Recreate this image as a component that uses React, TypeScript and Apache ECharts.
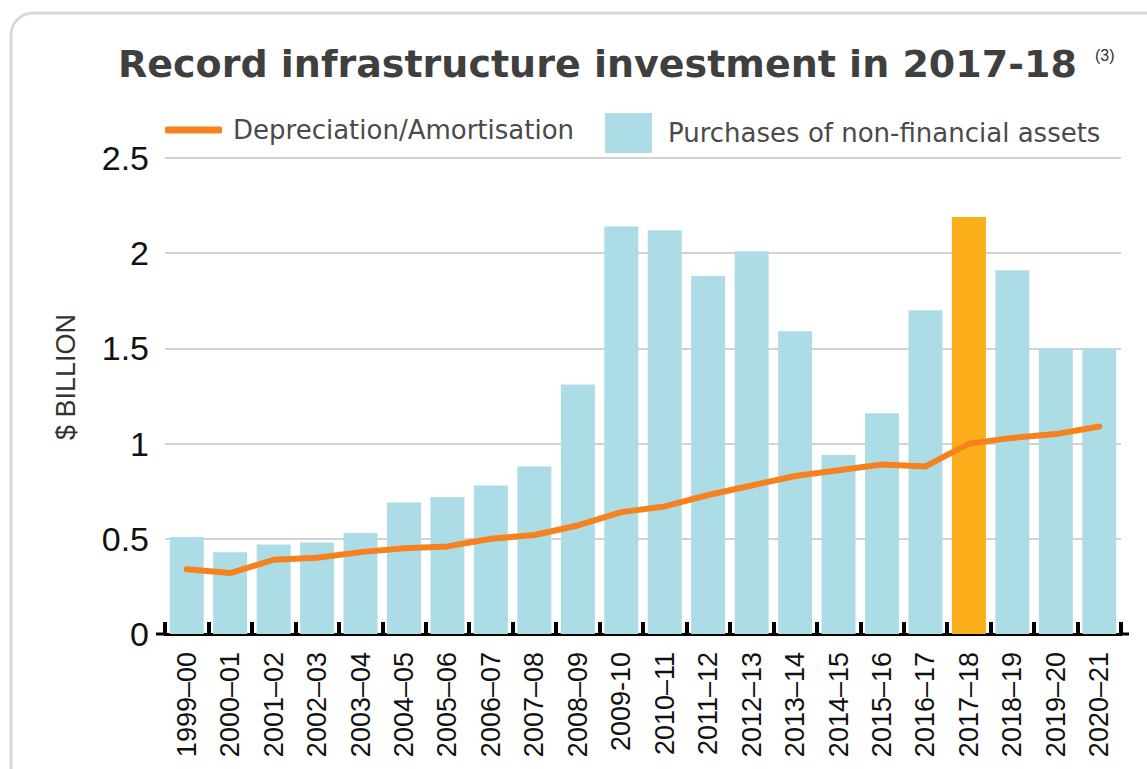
import React, { useEffect, useRef } from "react";
import * as echarts from "echarts";

const categories = [
  "1999–00", "2000–01", "2001–02", "2002–03", "2003–04", "2004–05",
  "2005–06", "2006–07", "2007–08", "2008–09", "2009-10", "2010–11",
  "2011–12", "2012–13", "2013–14", "2014–15", "2015–16", "2016–17",
  "2017–18", "2018–19", "2019–20", "2020–21",
];
const purchases = [
  0.51, 0.43, 0.47, 0.48, 0.53, 0.69, 0.72, 0.78, 0.88, 1.31, 2.14, 2.12,
  1.88, 2.01, 1.59, 0.94, 1.16, 1.70, 2.19, 1.91, 1.50, 1.50,
];
const depreciation = [
  0.34, 0.32, 0.39, 0.40, 0.43, 0.45, 0.46, 0.50, 0.52, 0.57, 0.64, 0.67,
  0.73, 0.78, 0.83, 0.86, 0.89, 0.88, 1.00, 1.03, 1.05, 1.09,
];
const highlightCategory = "2017–18";
const titleText = "Record infrastructure investment in 2017-18";
const titleNote = "(3)";
const lineName = "Depreciation/Amortisation";
const barName = "Purchases of non-financial assets";
const yAxisName = "$ BILLION";

const W = 1147;
const H = 769;
const GRID_LEFT = 165;
const GRID_RIGHT = 26;
const GRID_TOP = 158;
const GRID_BOTTOM = 135;
const AXIS_Y = H - GRID_BOTTOM;

const BAR_COLOR = "#acdde7";
const HIGHLIGHT_COLOR = "#fcae1a";
const LINE_COLOR = "#f5821f";

export default function App() {
  const ref = useRef<HTMLDivElement>(null);

  useEffect(() => {
    if (!ref.current) return;
    const chart = echarts.init(ref.current, null, { renderer: "svg" });

    const barData = purchases.map((v, i) =>
      categories[i] === highlightCategory
        ? { value: v, itemStyle: { color: HIGHLIGHT_COLOR } }
        : v
    );

    chart.setOption({
      animation: false,
      backgroundColor: "#ffffff",
      title: {
        text: titleText,
        left: 118,
        top: 45,
        padding: 0,
        textStyle: {
          fontFamily: "DejaVu Sans",
          fontWeight: "bold",
          fontSize: 38,
          color: "#3f3f3f",
        },
      },
      legend: [
        {
          data: [{ name: lineName, icon: "roundRect", itemStyle: { color: LINE_COLOR } }],
          left: 165,
          top: 117,
          padding: 0,
          itemWidth: 57,
          itemHeight: 7,
          selectedMode: false,
          textStyle: {
            fontFamily: "DejaVu Sans",
            fontSize: 26,
            color: "#4a4a4a",
            padding: [3, 0, 0, 6],
          },
        },
        {
          data: [{ name: barName, icon: "rect" }],
          left: 605,
          top: 113,
          padding: 0,
          itemWidth: 47,
          itemHeight: 40,
          selectedMode: false,
          textStyle: {
            fontFamily: "DejaVu Sans",
            fontSize: 26,
            color: "#4a4a4a",
            padding: [0, 0, 0, 11],
          },
        },
      ],
      grid: {
        left: GRID_LEFT,
        right: GRID_RIGHT,
        top: GRID_TOP,
        bottom: GRID_BOTTOM,
        containLabel: false,
      },
      xAxis: {
        type: "category",
        data: categories,
        boundaryGap: true,
        axisLine: { show: true, lineStyle: { color: "#000000", width: 3 } },
        axisTick: {
          show: true,
          inside: true,
          length: 12,
          lineStyle: { color: "#000000", width: 4 },
        },
        axisLabel: {
          rotate: 90,
          interval: 0,
          margin: 18,
          fontFamily: "Liberation Sans",
          fontSize: 27,
          color: "#111111",
        },
        splitLine: { show: false },
      },
      yAxis: {
        type: "value",
        min: 0,
        max: 2.5,
        interval: 0.5,
        axisLine: { show: false },
        axisTick: { show: false },
        axisLabel: {
          margin: 16,
          fontFamily: "Liberation Sans",
          fontSize: 34,
          color: "#111111",
        },
        splitLine: { show: true, lineStyle: { color: "#d2d2d2", width: 2 } },
      },
      graphic: [
        {
          type: "rect",
          z: -10,
          silent: true,
          shape: { x: 11, y: 13, width: W + 40, height: H + 40, r: 22 },
          style: { fill: "none", stroke: "#d9d9d9", lineWidth: 3 },
        },
        {
          type: "text",
          left: 1095,
          top: 47,
          silent: true,
          style: {
            text: titleNote,
            fontFamily: "Liberation Sans",
            fontSize: 16,
            fill: "#333333",
          },
        },
        {
          type: "text",
          x: 66,
          y: 377,
          rotation: Math.PI / 2,
          silent: true,
          style: {
            text: yAxisName,
            align: "center",
            verticalAlign: "middle",
            fontFamily: "Liberation Sans",
            fontSize: 27,
            fill: "#333333",
          },
        },
        {
          type: "line",
          silent: true,
          z: 10,
          shape: { x1: 156, y1: AXIS_Y, x2: GRID_LEFT + 1, y2: AXIS_Y },
          style: { stroke: "#000000", lineWidth: 3 },
        },
        {
          type: "line",
          silent: true,
          z: 10,
          shape: { x1: W - GRID_RIGHT - 1, y1: AXIS_Y, x2: W - GRID_RIGHT + 8, y2: AXIS_Y },
          style: { stroke: "#000000", lineWidth: 3 },
        },
      ],
      series: [
        {
          name: barName,
          type: "bar",
          data: barData,
          barWidth: 34,
          itemStyle: { color: BAR_COLOR },
          z: 2,
        },
        {
          name: lineName,
          type: "line",
          data: depreciation,
          showSymbol: false,
          symbol: "none",
          itemStyle: { color: LINE_COLOR },
          lineStyle: { color: LINE_COLOR, width: 6, cap: "round", join: "round" },
          z: 5,
        },
      ],
    });

    return () => {
      chart.dispose();
    };
  }, []);

  return (
    <div
      ref={ref}
      style={{ position: "absolute", left: 0, top: 0, width: W, height: H }}
    />
  );
}
